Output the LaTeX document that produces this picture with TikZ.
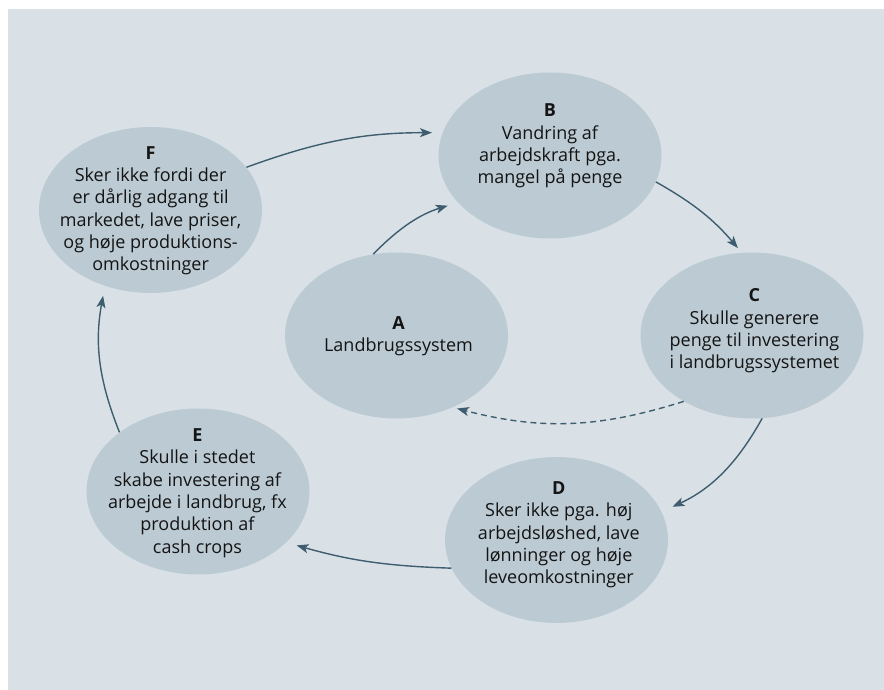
\documentclass[tikz,border=0pt]{standalone}
\usepackage{fontspec}
\setmainfont{Open Sans}
\usetikzlibrary{arrows.meta,shapes.geometric}
\definecolor{bgc}{HTML}{D9E1E7}
\definecolor{ellc}{HTML}{BCCAD3}
\definecolor{arrc}{HTML}{3E5D6E}
\definecolor{txtc}{HTML}{141414}
\begin{document}
\begin{tikzpicture}[x=1pt,y=1pt,
  blob/.style={ellipse, fill=ellc, draw=none, minimum width=223pt, minimum height=166pt, inner sep=0pt},
  lbl/.style={align=center, font=\fontsize{18}{22.3}\selectfont, text=txtc, inner sep=0pt},
  flow/.style={draw=arrc, line width=1.4pt, -{Stealth[length=12pt,width=9pt,inset=3pt]}},
  back/.style={flow, dash pattern=on 6pt off 4pt}]
\useasboundingbox (0,0) rectangle (884,-690);
\fill[white] (0,0) rectangle (884,-690);
\fill[bgc] (8,-9) rectangle (884,-690);

\node[blob] (F) at (150.5,-210) {};
\node[blob] (B) at (550,-155.5) {};
\node[blob] (A) at (396.5,-335.5) {};
\node[blob] (C) at (752,-335.5) {};
\node[blob] (E) at (198,-491.5) {};
\node[blob] (D) at (556.5,-540) {};

\node[lbl] (Bt) at (550,-146) {\textbf{B}\\Vandring af\\arbejdskraft pga.\\mangel på penge};
\node[lbl] (Ft) at (150.6,-210.8) {\textbf{F}\\Sker ikke fordi der\\er dårlig adgang til\\markedet, lave priser,\\og høje produktions-\\omkostninger};
\node[lbl] (At) at (398.5,-336.5) {\textbf{A}\\Landbrugssystem};
\node[lbl] (Ct) at (754.4,-330.8) {\textbf{C}\\Skulle generere\\penge til investering\\i landbrugssystemet};
\node[lbl] (Et) at (197.4,-493) {\textbf{E}\\Skulle i stedet\\skabe investering af\\arbejde i landbrug, fx\\produktion af\\cash crops};
\node[lbl] (Dt) at (558.8,-535) {\textbf{D}\\Sker ikke pga. høj\\arbejdsløshed, lave\\lønninger og høje\\leveomkostninger};

\draw[flow, shorten >=10.6pt] (F.24.5) to[bend left=10] (B.168.5);
\draw[flow, shorten >=10.6pt] (A.106) to[bend left=14] (B.207.2);
\draw[flow, shorten >=6pt] (B.-14.7) to[bend left=10] (C.97.7);
\draw[flow, shorten >=12pt] (C.-83.2) to[bend left=18] (D.15.4);
\draw[flow, shorten >=10.7pt] (D.195) to[bend left=7] (E.-30.4);
\draw[flow, shorten >=10pt] (E.143.8) to[bend left=16] (F.239.8);
\draw[back, shorten >=4.4pt] (C.224) to[bend left=16] (A.-52.2);
\end{tikzpicture}
\end{document}
